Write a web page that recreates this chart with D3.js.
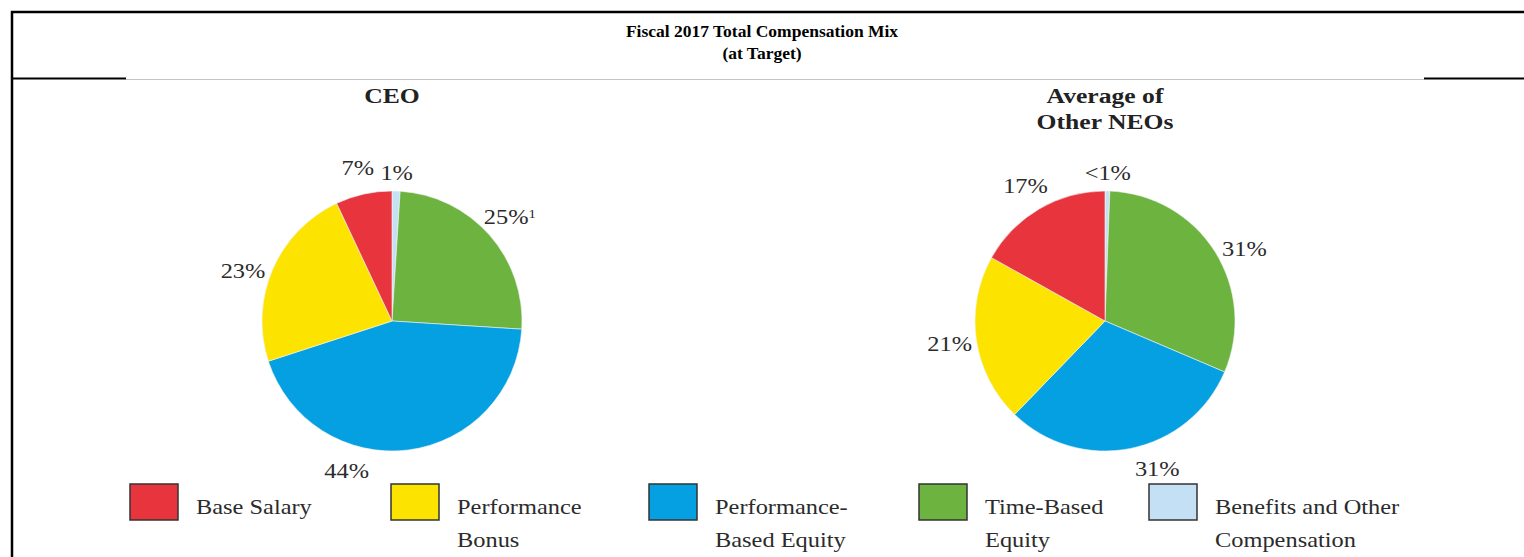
<!DOCTYPE html>
<html>
<head>
<meta charset="utf-8">
<script src="https://cdn.jsdelivr.net/npm/d3@7"></script>
<style>
  body { margin: 0; background: #fff; }
  svg { display: block; }
  text { font-family: "Liberation Serif", "Times New Roman", serif; }
</style>
</head>
<body>
<div id="chart"></div>
<script>
// categories in legend order
const categories = ["Base Salary", "Performance Bonus", "Performance-Based Equity", "Time-Based Equity", "Benefits and Other Compensation"];
const legendLines = [["Base Salary"], ["Performance", "Bonus"], ["Performance-", "Based Equity"], ["Time-Based", "Equity"], ["Benefits and Other", "Compensation"]];
const colors = ["#e8343d", "#fde300", "#05a0e2", "#6cb33f", "#c4e0f4"];

// values (same order as categories)
const ceoValues = [7, 23, 44, 25, 1];
const ceoLabels = ["7%", "23%", "44%", "25%", "1%"];
const neoValues = [17, 21, 31, 31, 0.6];
const neoLabels = ["17%", "21%", "31%", "31%", "<1%"];

// slices are drawn clockwise from 12 o'clock in this order
const sliceOrder = [4, 3, 2, 1, 0];

const W = 1524, H = 557;
const R = 130, labelR = 157;
const stretch = 1.22; // source image is a bit wide

const svg = d3.select("#chart").append("svg")
  .attr("width", W)
  .attr("height", H);

// frame lines
svg.append("line").attr("x1", 11).attr("x2", W).attr("y1", 12).attr("y2", 12)
  .attr("stroke", "#000").attr("stroke-width", 2.5);
svg.append("line").attr("x1", 12).attr("x2", 12).attr("y1", 11).attr("y2", H)
  .attr("stroke", "#000").attr("stroke-width", 2.5);
svg.append("line").attr("x1", 126).attr("x2", 1424).attr("y1", 79.5).attr("y2", 79.5)
  .attr("stroke", "#aaa").attr("stroke-width", 0.7);
svg.append("line").attr("x1", 11).attr("x2", 126).attr("y1", 78.5).attr("y2", 78.5)
  .attr("stroke", "#000").attr("stroke-width", 2);
svg.append("line").attr("x1", 1424).attr("x2", W).attr("y1", 78.5).attr("y2", 78.5)
  .attr("stroke", "#000").attr("stroke-width", 2);

// title
svg.append("text")
  .attr("x", W / 2).attr("y", 37)
  .attr("text-anchor", "middle")
  .style("font-weight", "bold").style("font-size", "17.5px")
  .text("Fiscal 2017 Total Compensation Mix");
svg.append("text")
  .attr("x", W / 2).attr("y", 59)
  .attr("text-anchor", "middle")
  .style("font-weight", "bold").style("font-size", "17.5px")
  .text("(at Target)");

const pie = d3.pie().sort(null).value(d => d.value);
const arc = d3.arc().innerRadius(0).outerRadius(R);

// pies: center, subtitle lines, label angle tweaks (degrees, by category index)
const pies = [
  { cx: 392, cy: 321, title: ["CEO"], values: ceoValues, labels: ceoLabels, shift: { 1: -5, 2: 24 } },
  { cx: 1105, cy: 321, title: ["Average of", "Other NEOs"], values: neoValues, labels: neoLabels, shift: { 2: -8, 3: 5 } }
];

pies.forEach(p => {
  const g = svg.append("g").attr("transform", `translate(${p.cx},${p.cy})`);

  const rows = sliceOrder.map(i => ({ i: i, value: p.values[i], label: p.labels[i] }));
  const arcs = pie(rows);

  g.selectAll("path")
    .data(arcs)
    .enter().append("path")
    .attr("d", arc)
    .attr("fill", d => colors[d.data.i])
    .attr("stroke", "#f4f4f4")
    .attr("stroke-width", 0.6);

  // percentage labels, tiny slices sit a little closer in
  arcs.forEach(d => {
    const a = (d.startAngle + d.endAngle) / 2 + ((p.shift[d.data.i] || 0) * Math.PI / 180);
    const r = d.data.value < 2 ? labelR - 9 : labelR;
    const x = Math.sin(a) * r;
    const y = -Math.cos(a) * r;
    const t = g.append("text")
      .attr("transform", `translate(${x},${y}) scale(${stretch},1)`)
      .attr("dy", "0.35em")
      .attr("text-anchor", "middle")
      .attr("fill", "#2b2b2b")
      .style("font-size", "20px")
      .text(d.data.label);
    if (p === pies[0] && d.data.i === 3) {
      t.append("tspan").attr("dy", "-0.55em").style("font-size", "12px").text("1");
    }
  });

  // subtitle
  p.title.forEach((line, k) => {
    svg.append("text")
      .attr("transform", `translate(${p.cx},${103 + k * 26}) scale(${stretch},1)`)
      .attr("text-anchor", "middle")
      .attr("fill", "#222")
      .style("font-weight", "bold").style("font-size", "21px")
      .text(line);
  });
});

// legend
const legendX = [130, 391, 649, 919, 1149];
const legend = svg.selectAll(".legend")
  .data(categories)
  .enter().append("g")
  .attr("class", "legend")
  .attr("transform", (d, i) => `translate(${legendX[i]},484)`);

legend.append("rect")
  .attr("width", 48).attr("height", 36)
  .attr("fill", (d, i) => colors[i])
  .attr("stroke", "#333").attr("stroke-width", 1.5);

legend.each(function (d, i) {
  legendLines[i].forEach((line, k) => {
    d3.select(this).append("text")
      .attr("transform", `translate(66,${30 + k * 33}) scale(${stretch},1)`)
      .attr("fill", "#2b2b2b")
      .style("font-size", "20px")
      .text(line);
  });
});
</script>
</body>
</html>
